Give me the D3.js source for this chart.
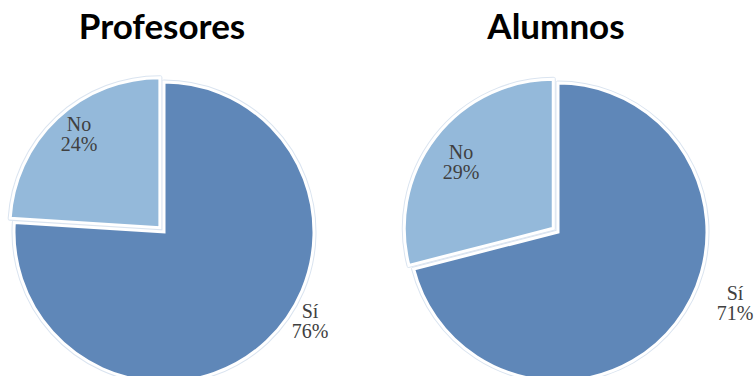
<!DOCTYPE html>
<html>
<head>
<meta charset="utf-8">
<script src="https://cdn.jsdelivr.net/npm/d3@7"></script>
<style>
  html, body { margin: 0; padding: 0; background: #fff; }
  svg { display: block; }
</style>
</head>
<body>
<svg id="chart" width="754" height="376"></svg>
<script>
// Survey answers, one pie per group
const groups = ["Profesores", "Alumnos"];
const answers = ["Sí", "No"];
const profesoresValues = [76, 24];
const alumnosValues = [71, 29];
const sliceColors = ["#5f87b8", "#94b9da"];

// Layout of each pie: centre, radius, label offsets from centre
const layout = [
  { cx: 164, cy: 232, r: 150, title: [162, 39],
    labels: [[146, 89], [-85, -98]] },
  { cx: 558, cy: 232, r: 149, title: [556, 39],
    labels: [[177, 71], [-97, -70]] }
];
const explode = 6;

const svg = d3.select("#chart");
const pie = d3.pie().sort(null).value(d => d);
const seriesValues = [profesoresValues, alumnosValues];

groups.forEach((name, gi) => {
  const L = layout[gi];
  const arc = d3.arc().innerRadius(0).outerRadius(L.r);
  const g = svg.append("g").attr("transform", `translate(${L.cx},${L.cy})`);
  const arcs = pie(seriesValues[gi]);

  const shift = (d, i) => {
    if (i === 0) return "translate(0,0)";
    const a = (d.startAngle + d.endAngle) / 2;
    return `translate(${Math.sin(a) * explode},${-Math.cos(a) * explode})`;
  };

  // faint outline halo
  g.selectAll("path.halo").data(arcs).join("path")
    .attr("class", "halo")
    .attr("d", arc)
    .attr("transform", shift)
    .attr("fill", "none")
    .attr("stroke", "#dae4f0")
    .attr("stroke-width", 5)
    .attr("stroke-linejoin", "round");

  g.selectAll("path.slice").data(arcs).join("path")
    .attr("class", "slice")
    .attr("d", arc)
    .attr("transform", shift)
    .attr("fill", (d, i) => sliceColors[i])
    .attr("stroke", "#fff")
    .attr("stroke-width", 3)
    .attr("stroke-linejoin", "miter");

  // data labels
  arcs.forEach((d, i) => {
    const [dx, dy] = L.labels[i];
    const t = g.append("text")
      .attr("x", dx).attr("y", dy)
      .attr("text-anchor", "middle")
      .attr("font-family", "'Liberation Serif', 'Times New Roman', serif")
      .attr("font-size", 20)
      .attr("fill", "#404040");
    t.append("tspan").attr("x", dx).attr("dy", "-0.15em").text(answers[i]);
    t.append("tspan").attr("x", dx).attr("dy", "1.0em").text(d.data + "%");
  });

  // title
  svg.append("text")
    .attr("x", L.title[0]).attr("y", L.title[1])
    .attr("text-anchor", "middle")
    .attr("font-family", "Lato, 'Open Sans', sans-serif")
    .attr("font-weight", "bold")
    .attr("font-size", 35)
    .attr("fill", "#000")
    .text(name);
});
</script>
</body>
</html>
